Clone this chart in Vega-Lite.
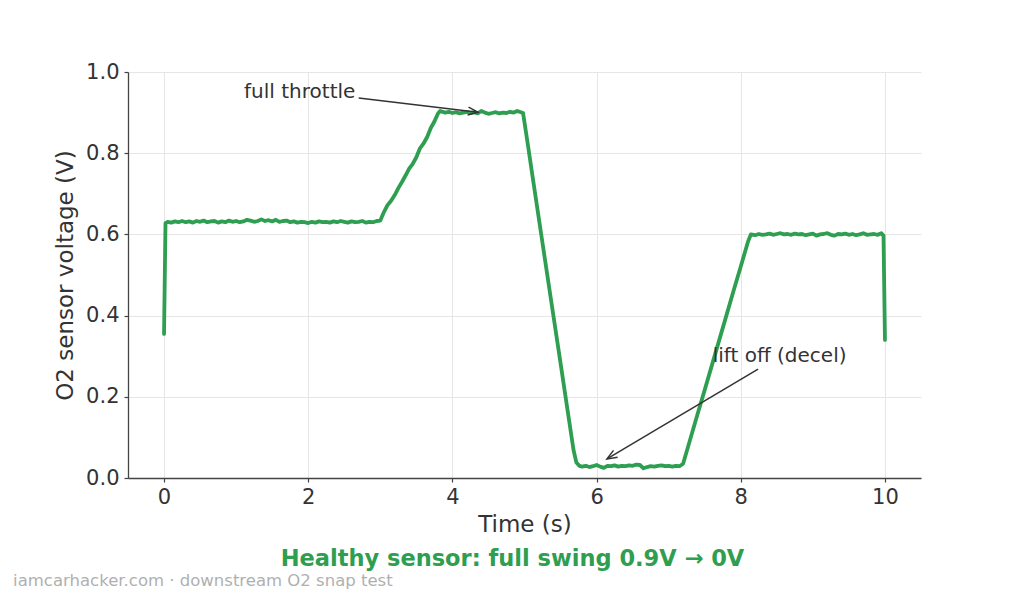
{
  "$schema": "https://vega.github.io/schema/vega-lite/v6.json",
  "width": 793,
  "height": 406,
  "autosize": {"type": "none"},
  "padding": {"left": 128, "top": 72, "right": 103, "bottom": 119},
  "config": {
    "font": "DejaVu Sans",
    "view": {"stroke": null},
    "axis": {
      "labelFont": "DejaVu Sans",
      "titleFont": "DejaVu Sans",
      "labelFontSize": 21,
      "titleFontSize": 23,
      "titleFontWeight": "normal",
      "labelColor": "#333333",
      "titleColor": "#333333",
      "domainColor": "#444444",
      "domainWidth": 1.3,
      "tickColor": "#444444",
      "tickWidth": 1.2,
      "tickSize": 4,
      "gridColor": "#e6e6e6",
      "gridWidth": 1
    }
  },
  "title": {
    "text": "Healthy sensor: full swing 0.9V → 0V",
    "orient": "bottom",
    "anchor": "middle",
    "dx": -12,
    "offset": -41,
    "font": "DejaVu Sans",
    "fontSize": 22.5,
    "fontWeight": "bold",
    "color": "#2e9e50"
  },
  "datasets": {
    "series": [
      {"t": 0, "v": 0.355}, {"t": 0.02, "v": 0.628}, {"t": 0.05, "v": 0.631}, {"t": 0.1, "v": 0.629}, {"t": 0.15, "v": 0.632}, {"t": 0.2, "v": 0.63}, {"t": 0.25, "v": 0.633}, {"t": 0.3, "v": 0.63}, {"t": 0.35, "v": 0.632}, {"t": 0.4, "v": 0.629}, {"t": 0.45, "v": 0.633}, {"t": 0.5, "v": 0.631}, {"t": 0.55, "v": 0.634}, {"t": 0.6, "v": 0.63}, {"t": 0.65, "v": 0.632}, {"t": 0.7, "v": 0.633}, {"t": 0.75, "v": 0.629}, {"t": 0.8, "v": 0.632}, {"t": 0.85, "v": 0.63}, {"t": 0.9, "v": 0.634}, {"t": 0.95, "v": 0.631},
      {"t": 1.0, "v": 0.633}, {"t": 1.05, "v": 0.63}, {"t": 1.1, "v": 0.632}, {"t": 1.15, "v": 0.636}, {"t": 1.2, "v": 0.634}, {"t": 1.25, "v": 0.631}, {"t": 1.3, "v": 0.633}, {"t": 1.35, "v": 0.637}, {"t": 1.4, "v": 0.633}, {"t": 1.45, "v": 0.635}, {"t": 1.5, "v": 0.632}, {"t": 1.55, "v": 0.636}, {"t": 1.6, "v": 0.631}, {"t": 1.65, "v": 0.633}, {"t": 1.7, "v": 0.634}, {"t": 1.75, "v": 0.63}, {"t": 1.8, "v": 0.632}, {"t": 1.85, "v": 0.629}, {"t": 1.9, "v": 0.631}, {"t": 1.95, "v": 0.63},
      {"t": 2.0, "v": 0.628}, {"t": 2.05, "v": 0.631}, {"t": 2.1, "v": 0.629}, {"t": 2.15, "v": 0.632}, {"t": 2.2, "v": 0.63}, {"t": 2.25, "v": 0.631}, {"t": 2.3, "v": 0.629}, {"t": 2.35, "v": 0.632}, {"t": 2.4, "v": 0.63}, {"t": 2.45, "v": 0.633}, {"t": 2.5, "v": 0.631}, {"t": 2.55, "v": 0.629}, {"t": 2.6, "v": 0.632}, {"t": 2.65, "v": 0.63}, {"t": 2.7, "v": 0.631}, {"t": 2.75, "v": 0.633}, {"t": 2.8, "v": 0.629}, {"t": 2.85, "v": 0.631}, {"t": 2.9, "v": 0.63}, {"t": 2.95, "v": 0.633},
      {"t": 3.0, "v": 0.634}, {"t": 3.05, "v": 0.655}, {"t": 3.1, "v": 0.672}, {"t": 3.15, "v": 0.683}, {"t": 3.2, "v": 0.697}, {"t": 3.25, "v": 0.714}, {"t": 3.3, "v": 0.729}, {"t": 3.35, "v": 0.745}, {"t": 3.4, "v": 0.762}, {"t": 3.45, "v": 0.774}, {"t": 3.5, "v": 0.79}, {"t": 3.55, "v": 0.812}, {"t": 3.6, "v": 0.824}, {"t": 3.65, "v": 0.84}, {"t": 3.7, "v": 0.862}, {"t": 3.75, "v": 0.878}, {"t": 3.8, "v": 0.898}, {"t": 3.83, "v": 0.904},
      {"t": 3.9, "v": 0.9}, {"t": 3.95, "v": 0.902}, {"t": 4.0, "v": 0.899}, {"t": 4.05, "v": 0.901}, {"t": 4.1, "v": 0.898}, {"t": 4.15, "v": 0.9}, {"t": 4.2, "v": 0.902}, {"t": 4.25, "v": 0.899}, {"t": 4.3, "v": 0.901}, {"t": 4.35, "v": 0.898}, {"t": 4.4, "v": 0.904}, {"t": 4.45, "v": 0.9}, {"t": 4.5, "v": 0.897}, {"t": 4.55, "v": 0.899}, {"t": 4.6, "v": 0.901}, {"t": 4.65, "v": 0.898}, {"t": 4.7, "v": 0.9}, {"t": 4.75, "v": 0.899}, {"t": 4.8, "v": 0.902}, {"t": 4.85, "v": 0.9}, {"t": 4.9, "v": 0.904}, {"t": 4.95, "v": 0.901}, {"t": 4.98, "v": 0.899},
      {"t": 5.05, "v": 0.817}, {"t": 5.1, "v": 0.757}, {"t": 5.2, "v": 0.638}, {"t": 5.3, "v": 0.519}, {"t": 5.4, "v": 0.401}, {"t": 5.5, "v": 0.283}, {"t": 5.6, "v": 0.164}, {"t": 5.68, "v": 0.069}, {"t": 5.72, "v": 0.038}, {"t": 5.76, "v": 0.03},
      {"t": 5.8, "v": 0.028}, {"t": 5.85, "v": 0.03}, {"t": 5.9, "v": 0.027}, {"t": 5.95, "v": 0.029}, {"t": 6.0, "v": 0.032}, {"t": 6.05, "v": 0.028}, {"t": 6.1, "v": 0.025}, {"t": 6.15, "v": 0.03}, {"t": 6.2, "v": 0.029}, {"t": 6.25, "v": 0.031}, {"t": 6.3, "v": 0.028}, {"t": 6.35, "v": 0.03}, {"t": 6.4, "v": 0.029}, {"t": 6.45, "v": 0.031}, {"t": 6.5, "v": 0.03}, {"t": 6.55, "v": 0.033}, {"t": 6.6, "v": 0.032}, {"t": 6.65, "v": 0.024}, {"t": 6.7, "v": 0.027}, {"t": 6.75, "v": 0.029}, {"t": 6.8, "v": 0.028}, {"t": 6.85, "v": 0.03}, {"t": 6.9, "v": 0.031}, {"t": 6.95, "v": 0.029}, {"t": 7.0, "v": 0.03}, {"t": 7.05, "v": 0.028}, {"t": 7.1, "v": 0.03}, {"t": 7.15, "v": 0.029}, {"t": 7.2, "v": 0.035},
      {"t": 7.3, "v": 0.096}, {"t": 7.4, "v": 0.157}, {"t": 7.5, "v": 0.217}, {"t": 7.6, "v": 0.278}, {"t": 7.7, "v": 0.339}, {"t": 7.8, "v": 0.4}, {"t": 7.9, "v": 0.461}, {"t": 8.0, "v": 0.521}, {"t": 8.1, "v": 0.582}, {"t": 8.14, "v": 0.6},
      {"t": 8.2, "v": 0.598}, {"t": 8.25, "v": 0.601}, {"t": 8.3, "v": 0.599}, {"t": 8.35, "v": 0.6}, {"t": 8.4, "v": 0.602}, {"t": 8.45, "v": 0.599}, {"t": 8.5, "v": 0.601}, {"t": 8.55, "v": 0.603}, {"t": 8.6, "v": 0.6}, {"t": 8.65, "v": 0.601}, {"t": 8.7, "v": 0.599}, {"t": 8.75, "v": 0.602}, {"t": 8.8, "v": 0.6}, {"t": 8.85, "v": 0.601}, {"t": 8.9, "v": 0.598}, {"t": 8.95, "v": 0.6}, {"t": 9.0, "v": 0.602}, {"t": 9.05, "v": 0.597}, {"t": 9.1, "v": 0.6}, {"t": 9.15, "v": 0.601}, {"t": 9.2, "v": 0.603}, {"t": 9.25, "v": 0.599}, {"t": 9.3, "v": 0.597}, {"t": 9.35, "v": 0.601}, {"t": 9.4, "v": 0.6}, {"t": 9.45, "v": 0.602}, {"t": 9.5, "v": 0.599}, {"t": 9.55, "v": 0.601}, {"t": 9.6, "v": 0.598}, {"t": 9.65, "v": 0.6}, {"t": 9.7, "v": 0.603}, {"t": 9.75, "v": 0.599}, {"t": 9.8, "v": 0.6}, {"t": 9.85, "v": 0.601}, {"t": 9.9, "v": 0.599}, {"t": 9.95, "v": 0.603}, {"t": 9.98, "v": 0.597}, {"t": 10.0, "v": 0.34}
    ],
    "arrows": [
      {"id": "full", "label": "full throttle", "tx": 1.11, "ty": 0.937, "x0": 2.7, "y0": 0.936, "x1": 4.355, "y1": 0.901},
      {"id": "lift", "label": "lift off (decel)", "tx": 7.61, "ty": 0.286, "x0": 8.24, "y0": 0.268, "x1": 6.144, "y1": 0.047}
    ],
    "footer": [
      {"x": -2.094, "y": -0.266, "text": "iamcarhacker.com · downstream O2 snap test"}
    ]
  },
  "layer": [
    {
      "data": {"name": "series"},
      "mark": {"type": "line", "color": "#2e9e50", "strokeWidth": 3.8, "strokeJoin": "round", "strokeCap": "round"},
      "encoding": {
        "x": {
          "field": "t", "type": "quantitative",
          "scale": {"domain": [-0.5, 10.5], "nice": false, "zero": false},
          "axis": {"title": "Time (s)", "values": [0, 2, 4, 6, 8, 10], "format": "d", "labelPadding": 4, "titlePadding": 6, "grid": true}
        },
        "y": {
          "field": "v", "type": "quantitative",
          "scale": {"domain": [0, 1.0], "nice": false},
          "axis": {"title": "O2 sensor voltage (V)", "values": [0, 0.2, 0.4, 0.6, 0.8, 1.0], "format": ".1f", "labelPadding": 5, "titlePadding": 8, "grid": true}
        }
      }
    },
    {
      "data": {"name": "arrows"},
      "mark": {"type": "rule", "color": "#333333", "strokeWidth": 1.5},
      "encoding": {
        "x": {"field": "x0", "type": "quantitative"},
        "y": {"field": "y0", "type": "quantitative"},
        "x2": {"field": "x1"},
        "y2": {"field": "y1"}
      }
    },
    {
      "data": {"name": "arrows"},
      "transform": [{"filter": "datum.id === 'full'"}],
      "mark": {"type": "point", "shape": "M -1 -0.4 L 0 0 L -1 0.4", "filled": false, "stroke": "#333333", "strokeWidth": 1.5, "size": 400, "opacity": 1, "angle": 6.7},
      "encoding": {
        "x": {"field": "x1", "type": "quantitative"},
        "y": {"field": "y1", "type": "quantitative"}
      }
    },
    {
      "data": {"name": "arrows"},
      "transform": [{"filter": "datum.id === 'lift'"}],
      "mark": {"type": "point", "shape": "M -1 -0.4 L 0 0 L -1 0.4", "filled": false, "stroke": "#333333", "strokeWidth": 1.5, "size": 400, "opacity": 1, "angle": 149.2},
      "encoding": {
        "x": {"field": "x1", "type": "quantitative"},
        "y": {"field": "y1", "type": "quantitative"}
      }
    },
    {
      "data": {"name": "arrows"},
      "mark": {"type": "text", "align": "left", "baseline": "alphabetic", "font": "DejaVu Sans", "fontSize": 20, "color": "#333333"},
      "encoding": {
        "x": {"field": "tx", "type": "quantitative"},
        "y": {"field": "ty", "type": "quantitative"},
        "text": {"field": "label"}
      }
    },
    {
      "data": {"name": "footer"},
      "mark": {"type": "text", "align": "left", "baseline": "alphabetic", "font": "DejaVu Sans", "fontSize": 16.5, "color": "#b0b0b0"},
      "encoding": {
        "x": {"field": "x", "type": "quantitative"},
        "y": {"field": "y", "type": "quantitative"},
        "text": {"field": "text"}
      }
    }
  ]
}
